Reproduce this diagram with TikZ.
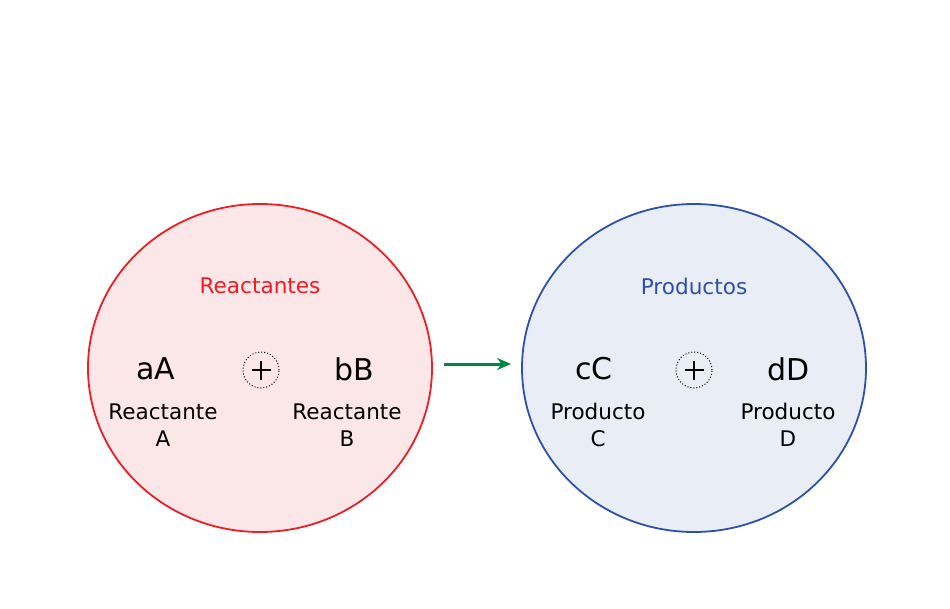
\documentclass[tikz,border=0pt]{standalone}
\usepackage{fontspec}
\setmainfont{DejaVu Sans}
\usetikzlibrary{arrows.meta,shapes.geometric}
\definecolor{rline}{HTML}{EE1C25}
\definecolor{rfill}{HTML}{FCE7E8}
\definecolor{bline}{HTML}{2E50A8}
\definecolor{bfill}{HTML}{E9EEF6}
\definecolor{garrow}{HTML}{00873D}
\begin{document}
\begin{tikzpicture}[x=1pt,y=-1pt,
  group/.style={ellipse, draw, line width=1.8pt, minimum width=344pt, minimum height=328pt, inner sep=0},
  title/.style={font=\fontsize{21.6}{26}\selectfont},
  species/.style={font=\fontsize{30}{34}\selectfont},
  lbl/.style={font=\fontsize{21.5}{27}\selectfont, align=center},
  plusc/.style={circle, draw, dotted, line width=1pt, minimum size=36pt, inner sep=0},
  plusbar/.style={line width=1.6pt}
]
\useasboundingbox (0,0) rectangle (950,608);
\node[group, draw=rline, fill=rfill] (reac) at (260,368) {};
\node[group, draw=bline, fill=bfill] (prod) at (694,368) {};
\node[title, text=rline] (treac) at (260,286) {Reactantes};
\node[title, text=bline] (tprod) at (694,286) {Productos};
\node[species] (aA) at (156,369) {aA};
\node[species] (bB) at (354,369) {bB};
\node[species] (cC) at (594,369) {cC};
\node[species] (dD) at (789,369) {dD};
\node[plusc] (p1) at (261,370) {};
\node[plusc] (p2) at (694,370) {};
\foreach \p in {p1,p2}{
  \draw[plusbar] ([xshift=-9.5pt]\p.center) -- ([xshift=9.5pt]\p.center);
  \draw[plusbar] ([yshift=-9.5pt]\p.center) -- ([yshift=9.5pt]\p.center);
}
\node[lbl] (la) at (163,425) {Reactante\\A};
\node[lbl] (lb) at (347,425) {Reactante\\B};
\node[lbl] (lc) at (598,425) {Producto\\C};
\node[lbl] (ld) at (788,425) {Producto\\D};
\coordinate (as) at (444,364);
\coordinate (ae) at (511,364);
\draw[garrow, line width=3pt, -{Stealth[length=14pt,width=12pt]}] (as) -- (ae);
\end{tikzpicture}
\end{document}
